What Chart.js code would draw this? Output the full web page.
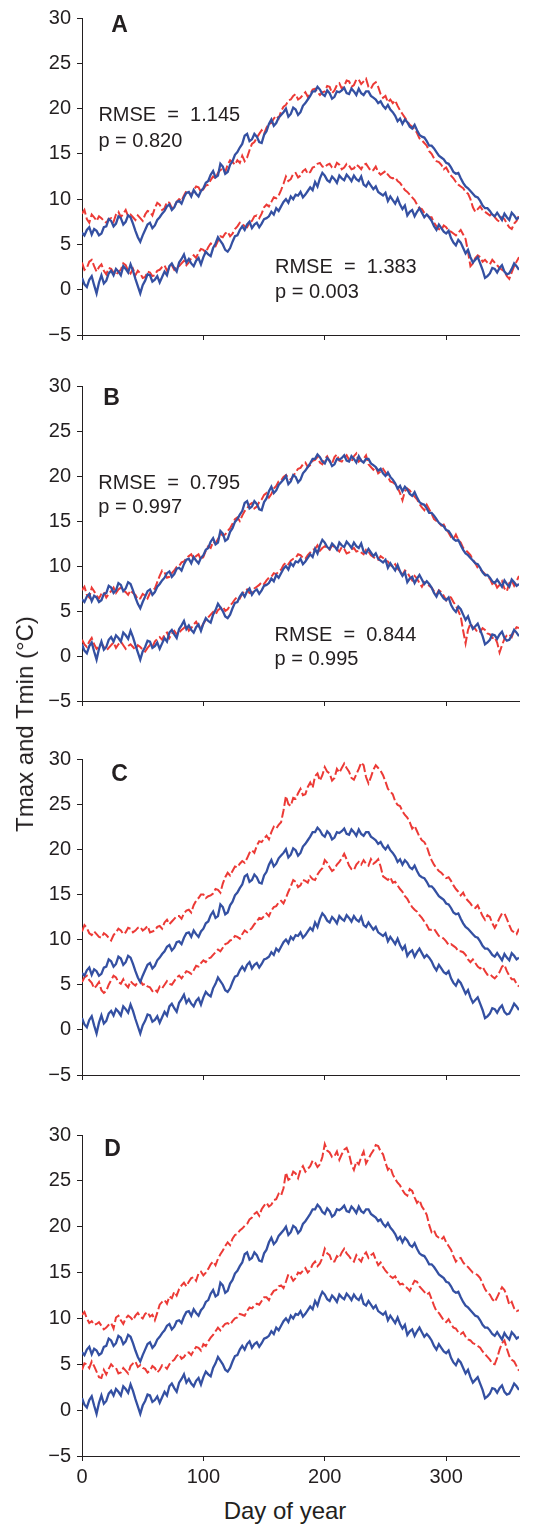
<!DOCTYPE html>
<html>
<head>
<meta charset="utf-8">
<title>Tmax and Tmin</title>
<script src="https://cdn.jsdelivr.net/npm/chart.js@4.4.1/dist/chart.umd.min.js"></script>
<style>
  body {
    margin: 0;
    width: 534px;
    height: 1528px;
    position: relative;
    overflow: hidden;
    background: #fff;
    font-family: "Liberation Sans", Arial, sans-serif;
    color: #231f20;
  }
  canvas { position: absolute; left: 0; }
  .axis-title {
    position: absolute;
    font-size: 24px;
    line-height: 24px;
    white-space: nowrap;
  }
</style>
</head>
<body>
<canvas id="panel-a" width="534" height="353" style="top:0px"></canvas>
<canvas id="panel-b" width="534" height="351" style="top:368px"></canvas>
<canvas id="panel-c" width="534" height="352" style="top:741px"></canvas>
<canvas id="panel-d" width="534" height="378" style="top:1117px"></canvas>
<div class="axis-title" style="left:25px;top:724px;transform:translate(-50%,-50%) rotate(-90deg)">Tmax and Tmin (°C)</div>
<div class="axis-title" style="left:285px;top:1499px;transform:translateX(-50%)">Day of year</div>

<script>
// day of year, one sample every 2 days
const days = [
  0, 2, 4, 6, 8, 10, 12, 14, 16, 18, 20, 22, 24, 26, 28, 30, 32, 34, 36, 38,
  40, 42, 44, 46, 48, 50, 52, 54, 56, 58, 60, 62, 64, 66, 68, 70, 72, 74, 76, 78,
  80, 82, 84, 86, 88, 90, 92, 94, 96, 98, 100, 102, 104, 106, 108, 110, 112, 114, 116, 118,
  120, 122, 124, 126, 128, 130, 132, 134, 136, 138, 140, 142, 144, 146, 148, 150, 152, 154, 156, 158,
  160, 162, 164, 166, 168, 170, 172, 174, 176, 178, 180, 182, 184, 186, 188, 190, 192, 194, 196, 198,
  200, 202, 204, 206, 208, 210, 212, 214, 216, 218, 220, 222, 224, 226, 228, 230, 232, 234, 236, 238,
  240, 242, 244, 246, 248, 250, 252, 254, 256, 258, 260, 262, 264, 266, 268, 270, 272, 274, 276, 278,
  280, 282, 284, 286, 288, 290, 292, 294, 296, 298, 300, 302, 304, 306, 308, 310, 312, 314, 316, 318,
  320, 322, 324, 326, 328, 330, 332, 334, 336, 338, 340, 342, 344, 346, 348, 350, 352, 354, 356, 358,
  360
];

const dayTicks = [0, 100, 200, 300];
const tempTicks = [-5, 0, 5, 10, 15, 20, 25, 30];

// observed series (blue, same in every panel)
const obsTmax = [
  6.3, 6.0, 6.6, 6.9, 6.1, 6.7, 6.5, 6.0, 6.2, 6.9,
  7.0, 7.8, 7.6, 7.0, 7.3, 8.1, 7.9, 7.2, 7.5, 8.2,
  8.0, 7.3, 6.5, 5.8, 5.3, 6.0, 6.6, 7.2, 7.4, 6.8,
  7.1, 7.7, 8.0, 8.4, 8.7, 9.2, 9.4, 8.8, 9.1, 9.7,
  9.8, 9.5, 10.2, 10.7, 10.8, 10.3, 11.0, 10.6, 10.3, 10.9,
  11.2, 11.8, 12.0, 12.7, 13.1, 12.4, 12.6, 13.9, 13.6, 12.8,
  13.0, 13.8, 14.2, 14.9, 15.2, 15.7, 16.1, 17.0, 17.2, 16.4,
  16.6, 17.2, 16.9, 16.3, 16.2, 17.1, 17.5, 18.3, 18.8, 18.1,
  18.4, 19.0, 19.3, 19.6, 20.0, 19.1, 19.4, 20.1, 19.9, 19.3,
  19.6, 20.3, 20.6, 21.0, 21.4, 21.9, 21.9, 22.4, 22.1, 21.6,
  21.4, 22.0, 21.7, 21.1, 21.3, 21.9, 21.8, 22.0, 22.3, 21.7,
  21.6, 22.2, 21.9, 21.5, 22.2, 21.7, 21.5, 21.9, 21.9, 21.4,
  21.2, 21.0, 20.6, 20.8, 20.3, 20.0, 20.4, 19.9, 19.6, 19.2,
  18.6, 18.9, 18.3, 18.8, 18.5, 18.0, 17.8, 18.2, 17.6, 17.1,
  16.9, 16.8, 16.4, 15.9, 15.9, 15.6, 15.2, 14.8, 14.6, 14.4,
  14.0, 13.9, 13.5, 13.0, 12.8, 12.9, 12.3, 11.8, 11.4, 11.2,
  10.9, 10.6, 10.3, 10.2, 9.8, 9.3, 9.0, 9.0, 8.7, 8.3,
  8.1, 8.5, 8.1, 7.7, 8.4, 8.0, 7.7, 8.5, 8.2, 7.8,
  8.0
];
const obsTmin = [
  1.3, 0.6, 0.3, 1.1, 1.5, 0.5, -0.4, 0.8, 1.6, 0.7,
  1.0, 1.8, 2.1, 1.6, 2.3, 2.0, 1.6, 2.6, 2.3, 1.9,
  2.8, 2.1, 1.2, 0.4, -0.4, 0.5, 1.0, 1.7, 1.6, 0.9,
  1.1, 1.5, 0.8, 1.4, 2.0, 1.6, 2.6, 2.9, 2.4, 2.0,
  3.0, 3.4, 3.9, 3.0, 3.4, 2.9, 2.6, 3.2, 3.5, 2.8,
  3.6, 4.2, 3.9, 3.7, 4.6, 5.1, 5.8, 5.4, 5.0, 4.4,
  4.2, 4.6, 5.3, 5.9, 6.0, 6.6, 7.0, 6.6, 7.2, 7.5,
  6.8, 7.2, 7.4, 6.9, 7.3, 7.8, 7.9, 8.1, 8.6, 8.3,
  9.0, 8.7, 9.2, 9.7, 10.0, 9.6, 10.3, 10.0, 10.5, 10.4,
  10.8, 10.2, 10.5, 10.9, 11.3, 11.0, 11.9, 11.4, 12.3, 12.9,
  12.6, 12.1, 11.9, 12.5, 12.2, 11.8, 12.6, 12.3, 12.1, 12.7,
  12.4, 12.0, 12.6, 12.2, 12.0, 12.5, 11.6, 11.4, 11.9, 11.5,
  11.1, 11.4, 10.8, 10.6, 10.4, 10.7, 9.8, 10.3, 9.9, 9.5,
  10.1, 9.4, 8.9, 9.3, 8.2, 8.6, 8.8, 8.1, 8.6, 9.0,
  8.5, 8.0, 8.3, 8.0, 7.6, 7.0, 6.6, 7.2, 6.8, 6.4,
  6.2, 6.5, 5.7, 5.2, 4.9, 5.5, 5.2, 4.6, 4.0, 4.4,
  3.6, 3.0, 3.3, 3.6, 2.9, 2.2, 1.3, 1.5, 1.8, 2.4,
  2.3, 1.9, 2.4, 2.7, 2.0, 1.7, 1.8, 2.3, 2.9, 2.6,
  2.2
];

// simulated series (red dashed), one pair per panel
const simTmaxA = [
  8.4, 8.8, 7.8, 7.4, 8.3, 8.0, 7.6, 8.1, 7.9, 7.6,
  7.4, 7.8, 7.9, 7.5, 8.3, 8.6, 8.0, 8.4, 8.8, 8.1,
  8.3, 8.0, 7.7, 8.2, 7.9, 7.6, 8.3, 8.7, 8.6, 8.2,
  9.0, 9.6, 9.4, 8.8, 9.0, 9.7, 9.6, 9.0, 9.2, 9.7,
  10.0, 9.8, 10.4, 10.9, 10.8, 10.4, 11.0, 11.4, 11.3, 10.8,
  11.1, 11.5, 11.6, 12.1, 12.5, 12.3, 12.9, 13.2, 13.4, 13.0,
  13.8, 14.3, 14.1, 13.8, 14.3, 14.0, 14.8, 14.2, 14.6, 15.4,
  16.1, 16.3, 16.8, 17.2, 17.6, 17.2, 17.9, 18.3, 18.4, 18.9,
  19.2, 18.9, 19.7, 20.2, 20.4, 20.9, 21.0, 21.4, 21.6, 21.0,
  21.2, 21.5, 21.8, 21.3, 21.6, 22.1, 22.2, 21.8, 21.5, 21.8,
  21.9, 22.5, 22.4, 21.7, 22.0, 22.6, 22.8, 22.2, 22.5, 23.1,
  23.0, 22.4, 22.6, 23.2, 23.2, 22.7, 23.0, 23.3, 22.4, 22.2,
  22.7, 22.9, 22.4, 21.6, 21.2, 21.4, 20.7, 21.0, 20.6, 20.9,
  20.3, 19.8, 19.4, 19.0, 18.6, 18.2, 18.0, 17.7, 17.3, 16.7,
  16.5, 16.2, 15.9, 15.3, 15.0, 14.5, 14.2, 14.1, 13.8, 13.3,
  13.5, 13.0, 12.6, 12.3, 11.9, 11.6, 11.4, 11.2, 10.8, 10.6,
  10.0, 9.1, 8.6, 8.9, 9.2, 8.8, 8.6, 8.4, 8.2, 8.5,
  8.0, 7.7, 7.5, 8.0, 7.8, 7.3, 6.9, 6.7, 7.3, 7.6,
  8.2
];
const simTminA = [
  3.0, 2.2, 2.4, 3.1, 3.3, 2.6, 2.0, 2.5, 2.8, 2.1,
  1.7, 2.4, 2.3, 1.9, 1.6, 2.0, 2.2, 2.9, 2.7, 2.1,
  1.8, 2.3, 1.6, 2.1, 1.8, 1.3, 1.4, 2.0, 1.9, 1.5,
  1.6, 2.1, 2.2, 2.5, 2.7, 2.1, 2.4, 2.7, 2.2, 2.5,
  2.6, 2.9, 3.2, 2.7, 3.0, 3.5, 3.8, 3.5, 4.1, 4.5,
  4.4, 4.1, 4.7, 5.1, 5.0, 4.8, 5.4, 5.9, 5.8, 6.2,
  6.4, 5.9, 6.2, 6.7, 7.0, 7.4, 7.3, 7.0, 6.9, 7.4,
  7.6, 8.1, 8.2, 7.9, 8.4, 9.1, 9.4, 9.2, 9.7, 10.2,
  10.1, 10.4, 11.0, 11.7, 12.5, 12.0, 12.2, 12.8, 12.9, 12.4,
  12.6, 13.1, 13.3, 12.8, 13.0, 13.5, 13.6, 13.9, 14.0, 13.6,
  13.5, 13.8, 13.9, 13.5, 13.4, 14.0, 13.8, 13.3, 13.5, 13.9,
  13.7, 13.3, 13.4, 13.8, 13.6, 13.3, 13.8, 13.9, 13.5, 13.1,
  13.2, 13.6, 13.0, 12.7, 12.9, 13.1, 12.7, 12.4, 12.3, 12.4,
  12.0, 11.8, 11.4, 11.0, 10.8, 10.5, 10.2, 9.9, 9.4, 9.0,
  8.9, 8.5, 8.3, 8.0, 8.0, 7.4, 7.0, 6.7, 6.6, 7.1,
  6.9, 6.5, 6.4, 6.2, 6.0, 6.3, 6.6, 6.1, 5.6, 4.2,
  2.6, 2.9, 3.5, 3.8, 3.6, 3.1, 3.3, 3.0, 2.8, 3.3,
  3.0, 2.7, 2.4, 2.2, 2.0, 1.5, 1.2, 1.9, 2.6, 3.1,
  3.6
];
const simTmaxB = [
  7.3, 7.7, 6.8, 6.5, 7.6, 7.2, 6.7, 6.4, 6.9, 7.1,
  6.5, 6.9, 7.2, 7.6, 7.0, 7.4, 7.6, 7.3, 7.1, 6.8,
  7.3, 7.0, 6.8, 6.3, 6.4, 6.9, 6.7, 6.4, 7.0, 7.3,
  7.5, 8.2, 8.9, 9.5, 9.3, 8.7, 8.8, 9.2, 9.5, 9.9,
  10.0, 10.4, 10.5, 10.9, 11.1, 11.3, 10.8, 11.1, 11.3, 10.7,
  11.0, 11.7, 12.2, 12.0, 12.7, 12.5, 13.0, 13.6, 13.4, 13.5,
  13.9, 14.2, 14.7, 15.2, 15.4, 15.0, 15.6, 16.1, 16.4, 16.8,
  17.0, 16.4, 16.6, 17.1, 17.4, 17.9, 18.1, 17.6, 18.0, 18.6,
  18.9, 19.4, 19.5, 19.9, 20.1, 19.8, 19.6, 20.0, 20.4, 20.8,
  20.9, 21.3, 21.5, 21.0, 21.2, 21.7, 21.8, 22.1, 21.5, 21.3,
  21.9, 22.2, 21.6, 21.4, 22.1, 22.4, 21.7, 21.6, 22.0, 22.3,
  21.8, 21.6, 22.2, 22.5, 21.6, 21.8, 21.9, 22.3, 21.3, 21.0,
  20.7, 21.0, 20.3, 20.5, 20.8, 20.4, 19.9, 19.4, 19.3, 19.1,
  18.7, 18.1, 17.3, 18.3, 18.6, 18.4, 18.0, 17.7, 17.4, 16.9,
  16.5, 16.2, 16.8, 16.3, 15.8, 15.2, 15.0, 14.8, 14.5, 14.6,
  14.1, 13.7, 13.2, 13.0, 13.5, 12.9, 12.6, 12.0, 11.8, 11.5,
  11.2, 10.7, 10.3, 9.8, 9.6, 9.4, 9.1, 8.7, 8.6, 8.0,
  8.2, 7.6, 7.9, 8.3, 7.5, 7.2, 8.1, 8.4, 7.8, 8.3,
  8.9
];
const simTminB = [
  1.8, 1.3, 1.0, 1.6, 2.0, 1.3, 0.8, 1.1, 1.4, 1.0,
  0.6, 0.9, 1.2, 1.5, 0.9, 1.3, 1.6, 1.2, 0.8, 1.1,
  1.3, 1.0, 0.7, 1.2, 1.0, 0.7, 0.5, 0.9, 1.2, 1.0,
  1.6, 1.9, 2.1, 1.8, 2.4, 2.6, 2.0, 2.5, 2.8, 2.4,
  2.6, 2.9, 3.1, 3.4, 2.8, 3.1, 3.5, 3.8, 3.3, 3.1,
  3.6, 4.0, 4.3, 4.6, 4.9, 4.6, 5.1, 5.3, 5.5, 5.0,
  5.2, 5.6, 5.9, 6.3, 6.6, 6.4, 6.9, 7.2, 7.4, 7.0,
  7.1, 7.5, 7.7, 7.9, 8.2, 8.0, 8.4, 8.7, 8.8, 9.2,
  9.1, 9.4, 9.6, 10.1, 10.4, 10.2, 10.6, 10.8, 10.9, 11.3,
  11.2, 10.9, 10.8, 11.2, 11.5, 11.8, 11.9, 12.3, 11.7, 12.0,
  12.2, 12.0, 11.8, 12.3, 12.1, 11.9, 11.6, 12.1, 11.9, 11.4,
  11.5, 11.8, 12.0, 11.6, 11.7, 11.5, 11.3, 11.8, 11.6, 11.2,
  11.0, 10.8, 10.7, 11.1, 10.9, 10.6, 10.5, 10.1, 9.9, 10.2,
  9.7, 9.4, 9.0, 9.5, 9.3, 8.8, 8.4, 8.9, 8.6, 8.1,
  7.7, 8.2, 8.0, 7.8, 7.6, 7.2, 6.8, 7.3, 7.1, 6.7,
  6.2, 6.6, 6.5, 6.0, 5.6, 5.0, 4.4, 2.8, 1.4, 2.9,
  3.6, 3.2, 3.0, 2.6, 2.7, 3.1, 2.9, 2.5, 2.4, 2.0,
  2.1, 1.5, 0.4, 1.2, 1.9, 2.3, 2.4, 2.1, 2.8, 3.2,
  3.1
];
const simTmaxC = [
  10.9, 11.6, 11.3, 10.7, 10.5, 10.9, 10.6, 10.3, 10.2, 10.7,
  10.5, 10.2, 9.9, 10.5, 10.8, 11.2, 11.0, 10.6, 10.8, 11.3,
  11.2, 10.8, 11.0, 11.3, 11.4, 11.0, 11.2, 11.5, 10.8, 10.9,
  11.0, 11.4, 11.5, 11.2, 11.9, 12.2, 11.7, 12.0, 12.3, 12.6,
  12.6, 12.3, 12.9, 13.2, 13.3, 13.0, 13.8, 14.3, 14.6, 15.0,
  15.0, 14.6, 14.8, 14.9, 15.1, 15.6, 15.5, 15.2, 16.2, 16.9,
  17.4, 17.1, 17.6, 18.1, 18.0, 18.4, 18.7, 18.5, 19.0, 19.6,
  19.9, 19.6, 20.4, 20.9, 20.8, 21.2, 21.5, 21.1, 21.9, 22.5,
  22.3, 22.7, 23.0, 24.3, 25.9, 25.0, 24.8, 25.7, 25.6, 26.2,
  26.7, 26.0, 26.1, 26.9, 27.4, 26.8, 28.1, 28.4, 27.6, 28.2,
  29.1, 28.6, 28.4, 27.6, 27.9, 28.9, 28.5, 29.0, 29.5, 29.0,
  28.6, 27.9, 27.7, 28.3, 28.9, 29.6, 29.3, 28.0, 27.3, 28.0,
  28.8, 29.3, 29.0, 28.7, 28.2, 27.5, 26.7, 26.4, 26.1, 25.3,
  24.9, 24.8, 24.2, 23.8, 23.5, 23.0, 22.3, 22.6, 22.0, 21.4,
  21.0, 20.8, 20.3, 19.5, 18.8, 18.3, 17.9, 17.6, 17.4, 17.1,
  16.8, 16.9, 16.5, 16.0, 15.6, 15.3, 14.9, 15.2, 14.6, 14.3,
  14.0, 13.6, 13.5, 13.8, 13.2, 12.6, 12.2, 12.7, 12.5, 11.8,
  11.3, 11.8, 12.4, 12.9, 12.9, 12.3, 11.6, 11.0, 10.8, 10.6,
  11.2
];
const simTminC = [
  5.3, 5.8, 6.0, 5.5, 5.2, 4.6, 4.9, 5.3, 4.4, 4.1,
  4.3, 5.0, 5.5, 6.0, 5.8, 5.3, 5.1, 5.6, 5.0, 4.7,
  5.4, 5.1, 4.9, 5.3, 5.5, 5.0, 5.1, 4.8, 4.7, 4.3,
  4.5, 4.2, 4.8, 4.6, 5.0, 5.4, 5.1, 5.0, 5.4, 5.8,
  6.0, 5.7, 6.1, 6.5, 6.4, 6.2, 6.6, 7.1, 7.0, 7.4,
  7.7, 7.5, 7.9, 8.0, 8.3, 8.6, 8.9, 8.7, 9.1, 9.5,
  9.6, 9.9, 10.0, 10.4, 10.3, 10.1, 10.6, 11.0, 10.8, 11.0,
  11.3, 11.7, 12.0, 12.4, 12.3, 12.6, 12.9, 12.6, 13.2, 13.6,
  13.7, 14.1, 14.3, 14.0, 14.6, 15.3, 15.9, 16.6, 16.4, 15.8,
  16.0, 16.6, 16.5, 16.3, 17.0, 16.7, 16.6, 17.2, 17.6, 17.9,
  18.8, 18.5, 18.0, 17.6, 17.8, 18.3, 18.6, 19.0, 19.5, 18.9,
  18.2, 17.8, 17.7, 18.3, 18.6, 18.3, 18.8, 18.4, 18.2, 18.9,
  18.4, 18.6, 18.9, 18.1, 17.0, 16.8, 16.6, 16.9, 16.3, 16.4,
  16.0, 15.6, 15.3, 14.8, 14.5, 14.0, 13.6, 13.3, 13.1, 12.7,
  12.4, 12.0, 11.6, 11.1, 11.1, 11.2, 10.8, 10.4, 10.3, 10.1,
  9.8, 9.4, 9.5, 9.3, 9.1, 8.7, 8.7, 8.6, 8.3, 7.8,
  7.5, 7.8, 7.4, 7.0, 6.8, 7.0, 6.5, 6.1, 6.2, 5.9,
  5.7, 6.0, 6.4, 7.0, 7.2, 6.5, 6.0, 5.6, 5.6, 5.1,
  4.8
];
const simTmaxD = [
  10.4, 10.7, 10.0, 9.5, 9.7, 9.3, 9.4, 9.6, 9.2, 8.8,
  9.0, 9.3, 9.5, 8.9, 10.1, 10.3, 9.8, 9.4, 10.0, 10.3,
  10.1, 9.8, 10.3, 10.6, 10.2, 10.0, 10.5, 10.7, 10.2, 10.4,
  9.8, 10.6, 11.5, 11.8, 12.0, 11.6, 12.4, 12.2, 12.9, 12.5,
  13.2, 13.6, 13.9, 13.5, 14.0, 14.4, 14.5, 14.1, 14.9, 15.1,
  14.7, 15.0, 15.4, 15.9, 16.2, 15.8, 16.5, 17.0, 17.4, 17.9,
  18.3, 18.0, 18.7, 19.1, 19.2, 19.6, 19.8, 20.1, 20.3, 20.8,
  21.0, 21.4, 21.6, 21.2, 21.9, 22.3, 22.6, 22.2, 22.4, 22.9,
  23.0, 23.6, 23.4, 24.2, 25.9, 25.1, 25.3, 26.0, 25.8, 25.3,
  26.2, 26.6, 26.0, 26.3, 26.6, 27.2, 27.0, 26.5, 26.8, 27.6,
  29.0, 28.3, 28.1, 27.6, 27.7, 28.2, 27.3, 27.9, 28.4, 28.6,
  27.9, 26.8, 26.2, 27.1, 26.8, 27.6, 28.2, 26.9, 27.4, 27.9,
  28.3, 28.9, 28.8, 28.2, 27.9, 27.0, 26.2, 26.5, 25.7, 25.2,
  24.8, 24.5, 24.0, 23.6, 23.4, 24.1, 23.9, 23.2, 22.6, 22.9,
  22.2, 21.8, 21.3, 20.2, 19.4, 19.6, 19.0, 18.8, 18.6, 18.9,
  18.3, 17.9, 17.5, 16.8, 16.2, 16.5, 16.6, 16.1, 15.8, 15.6,
  15.3, 15.0, 14.9, 14.7, 14.4, 13.8, 13.2, 12.8, 12.6, 12.1,
  11.8, 12.3, 12.9, 13.4, 13.1, 12.4, 11.5, 11.8, 11.1, 10.8,
  10.9
];
const simTminD = [
  4.4, 5.1, 5.0, 4.6, 5.3, 4.8, 4.2, 3.6, 3.5, 4.4,
  3.9, 4.5, 5.0, 4.7, 4.6, 4.0, 4.1, 4.6, 4.3, 4.0,
  4.8, 5.1, 5.3, 4.7, 4.9, 4.6, 4.5, 4.1, 4.3, 4.8,
  4.6, 4.1, 4.4, 4.9, 4.8, 4.5, 5.0, 5.3, 5.5, 5.9,
  6.1, 5.6, 5.8, 6.2, 6.3, 6.0, 6.5, 6.9, 6.8, 6.5,
  7.2, 7.0, 7.5, 7.9, 8.2, 8.6, 9.0, 8.7, 9.1, 9.4,
  9.5, 9.3, 9.7, 10.0, 10.1, 10.5, 10.4, 10.3, 10.8, 11.2,
  11.1, 11.4, 11.6, 11.5, 11.9, 12.3, 12.3, 12.0, 12.6, 13.0,
  13.1, 13.5, 13.6, 13.3, 14.0, 14.8, 14.6, 14.1, 14.4, 15.0,
  14.9, 15.2, 15.5, 15.0, 15.3, 15.9, 16.2, 15.7, 16.0, 16.6,
  17.6, 17.1, 16.9, 16.2, 16.2, 16.8, 16.6, 17.2, 17.6, 17.1,
  16.8, 16.4, 16.2, 16.9, 16.5, 16.2, 16.9, 17.2, 16.6, 16.9,
  17.1, 16.4, 15.8, 16.1, 15.6, 15.2, 14.9, 14.6, 14.4, 14.6,
  14.1, 13.7, 13.8, 13.5, 13.3, 13.0, 13.6, 14.1, 14.0, 13.5,
  13.2, 12.9, 12.6, 12.8, 12.1, 11.4, 10.8, 10.6, 10.2, 9.8,
  9.6, 9.9, 9.4, 9.0, 8.9, 8.5, 8.3, 8.5, 8.0, 7.7,
  7.6, 7.3, 7.2, 7.0, 6.8, 6.4, 6.1, 5.8, 5.5, 5.1,
  5.0, 5.7, 6.6, 7.3, 7.6, 6.7, 5.9, 5.5, 5.3, 4.8,
  4.3
];

const BLUE = '#3450a2';
const RED = '#ec3a36';
const INK = '#231f20';
const FONT = '"Liberation Sans", Arial, Helvetica, sans-serif';

Chart.defaults.font.family = FONT;
Chart.defaults.color = INK;

function series(values, color, dashed) {
  return {
    data: days.map((d, i) => ({ x: d, y: values[i] })),
    borderColor: color,
    borderWidth: dashed ? 2 : 2.3,
    borderDash: dashed ? [9, 3] : [],
    pointRadius: 0,
    tension: 0,
    fill: false
  };
}

// panel letter and RMSE notes, placed in data units
const panelText = {
  id: 'panelText',
  afterDatasetsDraw(chart, args, opts) {
    const { ctx, scales: { x, y } } = chart;
    ctx.save();
    ctx.fillStyle = INK;
    ctx.textBaseline = 'alphabetic';
    ctx.textAlign = 'left';
    ctx.font = 'bold 23px ' + FONT;
    ctx.fillText(opts.letter.text, x.getPixelForValue(opts.letter.day), y.getPixelForValue(opts.letter.temp));
    ctx.font = '20px ' + FONT;
    for (const n of opts.notes) {
      ctx.fillText(n.text, x.getPixelForValue(n.day), y.getPixelForValue(n.temp));
    }
    ctx.restore();
  }
};

function makePanel(id, letter, simTmax, simTmin, notes, showDays) {
  return new Chart(document.getElementById(id), {
    type: 'line',
    data: {
      datasets: [
        series(obsTmax, BLUE, false),
        series(obsTmin, BLUE, false),
        series(simTmax, RED, true),
        series(simTmin, RED, true)
      ]
    },
    options: {
      responsive: false,
      animation: false,
      events: [],
      layout: { padding: { top: 15, right: 15, left: 0, bottom: 0 } },
      plugins: {
        legend: { display: false },
        tooltip: { enabled: false },
        panelText: { letter, notes }
      },
      scales: {
        x: {
          type: 'linear',
          min: 0,
          max: 360,
          afterBuildTicks: s => { s.ticks = dayTicks.map(v => ({ value: v })); },
          afterFit: s => { s.height = showDays ? 39 : 14; },
          grid: { drawOnChartArea: false, drawTicks: true, tickLength: 5, color: INK },
          border: { display: true, color: INK, width: 1 },
          ticks: { display: showDays, font: { size: 20 }, color: INK, padding: 4, maxRotation: 0 }
        },
        y: {
          type: 'linear',
          min: -5,
          max: 30,
          afterBuildTicks: s => { s.ticks = tempTicks.map(v => ({ value: v })); },
          afterFit: s => { s.width = 82; },
          grid: { drawOnChartArea: false, drawTicks: true, tickLength: 5, color: INK },
          border: { display: true, color: INK, width: 1 },
          ticks: {
            font: { size: 20 },
            color: INK,
            padding: 6,
            callback: v => (v < 0 ? '\u2212' + Math.abs(v) : String(v))
          }
        }
      }
    },
    plugins: [panelText]
  });
}

makePanel('panel-a', { text: 'A', day: 24, temp: 28.4 }, simTmaxA, simTminA, [
  { text: 'RMSE  =  1.145', day: 13.5, temp: 18.6 },
  { text: 'p = 0.820', day: 13.5, temp: 15.75 },
  { text: 'RMSE  =  1.383', day: 159, temp: 1.8 },
  { text: 'p = 0.003', day: 159, temp: -0.95 }
], false);

makePanel('panel-b', { text: 'B', day: 17.5, temp: 27.9 }, simTmaxB, simTminB, [
  { text: 'RMSE  =  0.795', day: 13.4, temp: 18.6 },
  { text: 'p = 0.997', day: 13.4, temp: 15.9 },
  { text: 'RMSE  =  0.844', day: 158.6, temp: 1.7 },
  { text: 'p = 0.995', day: 158.6, temp: -1.0 }
], false);

makePanel('panel-c', { text: 'C', day: 24, temp: 27.6 }, simTmaxC, simTminC, [], false);

makePanel('panel-d', { text: 'D', day: 18.4, temp: 27.7 }, simTmaxD, simTminD, [], true);
</script>
</body>
</html>
